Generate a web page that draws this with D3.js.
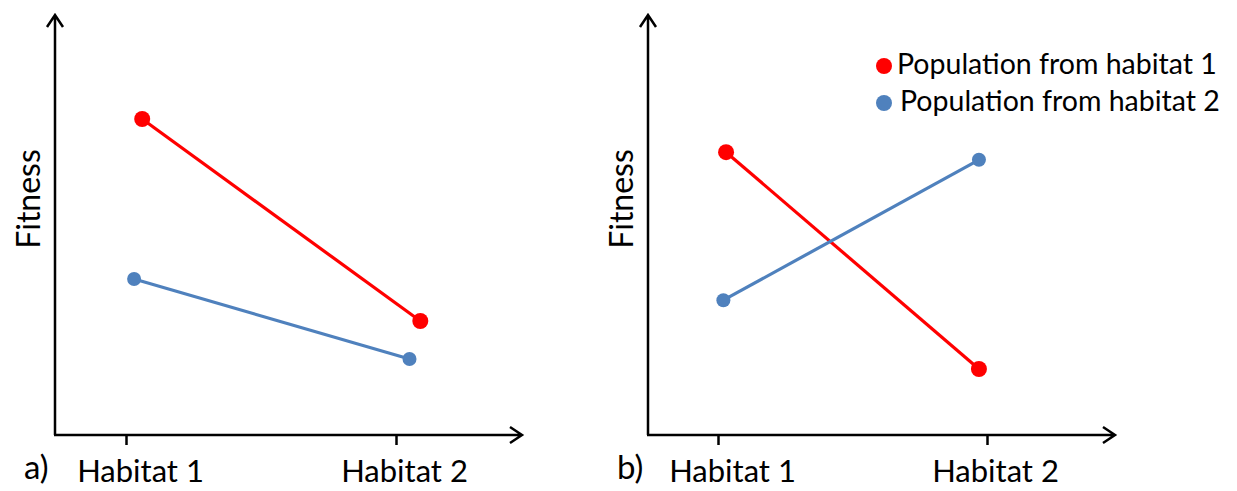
<!DOCTYPE html>
<head>
<meta charset="utf-8">
<title>Local adaptation reaction norms</title>
<script type="text/javascript" src="https://d3js.org/d3.v7.min.js"></script>
<style>
    body { margin: 0; background: #fff; }
    text { font-family: Lato, "Open Sans", sans-serif; fill: #000; }
</style>
</head>
<body>
<div id="my_dataviz"></div>
<script>

// categories on the x axis
var categories = ["Habitat 1", "Habitat 2"];
var seriesNames = ["Population from habitat 1", "Population from habitat 2"];
var seriesColors = ["#ff0000", "#4f81bd"];

// x = 1 for habitat 1, 2 for habitat 2 (points sit a little off the ticks)
// y = relative fitness, 0..10
var aHab1X = [1.06, 2.09], aHab1Y = [7.9, 2.85];
var aHab2X = [1.03, 2.05], aHab2Y = [3.9, 1.9];
var bHab1X = [1.03, 1.97], bHab1Y = [7.07, 1.65];
var bHab2X = [1.02, 1.97], bHab2Y = [3.37, 6.88];

var panels = [
    {label: "a)", left: 55, right: 522, tick1: 126, tick2: 396,
     series: [[aHab1X, aHab1Y], [aHab2X, aHab2Y]]},
    {label: "b)", left: 648, right: 1115, tick1: 718, tick2: 987,
     series: [[bHab1X, bHab1Y], [bHab2X, bHab2Y]]}
];

var width = 1237, height = 491;
var axisY = 435, axisTop = 15;

var svg = d3.select("#my_dataviz")
  .append("svg")
    .attr("width", width)
    .attr("height", height);

var y = d3.scaleLinear()
    .domain([0, 10])
    .range([axisY, 35]);

panels.forEach(function(p) {
    var g = svg.append("g");

    var x = d3.scaleLinear()
        .domain([1, 2])
        .range([p.tick1, p.tick2]);

    // axis lines with open arrow heads
    g.append("path")
        .attr("d", "M" + p.left + "," + axisY + "V" + axisTop +
                   "M" + (p.left - 8) + "," + (axisTop + 12) + "L" + p.left + "," + axisTop + "L" + (p.left + 8) + "," + (axisTop + 12) +
                   "M" + (p.left - 1) + "," + axisY + "H" + p.right +
                   "M" + (p.right - 12) + "," + (axisY - 8) + "L" + p.right + "," + axisY + "L" + (p.right - 12) + "," + (axisY + 8))
        .attr("fill", "none")
        .attr("stroke", "#000")
        .attr("stroke-width", 2.5);

    // ticks + category labels
    var xAxis = g.append("g")
        .attr("transform", "translate(0," + axisY + ")")
        .call(d3.axisBottom(x)
            .tickValues([1, 2])
            .tickFormat(function(d) { return categories[d - 1]; })
            .tickSize(10)
            .tickPadding(20));
    xAxis.select(".domain").remove();
    xAxis.selectAll(".tick line").attr("stroke", "#000").attr("stroke-width", 2.5);
    xAxis.selectAll(".tick text")
        .attr("dx", function(d) { return d == 1 ? 14 : 8; })
        .attr("dy", "0.55em")
        .style("font-family", "Lato, sans-serif")
        .style("font-size", "31px");

    // y label
    g.append("text")
        .attr("transform", "translate(" + (p.left - 15) + ",199) rotate(-90)")
        .attr("text-anchor", "middle")
        .style("font-size", "32px")
        .text("Fitness");

    // panel label
    g.append("text")
        .attr("x", p.left - 31)
        .attr("y", 479)
        .style("font-size", "33px")
        .text(p.label);

    // lines and points
    p.series.forEach(function(s, i) {
        var pts = s[0].map(function(v, j) { return [v, s[1][j]]; });
        g.append("path")
            .datum(pts)
            .attr("fill", "none")
            .attr("stroke", seriesColors[i])
            .attr("stroke-width", 3.2)
            .attr("d", d3.line()
                .x(function(d) { return x(d[0]); })
                .y(function(d) { return y(d[1]); }));
        g.selectAll(".pt" + i)
            .data(pts)
            .enter()
            .append("circle")
            .attr("cx", function(d) { return x(d[0]); })
            .attr("cy", function(d) { return y(d[1]); })
            .attr("r", i == 0 ? 8 : 7)
            .attr("fill", seriesColors[i]);
    });
});

// legend (panel b)
var legend = svg.append("g");
var legY = [66, 103], legTextX = [897, 900];
seriesNames.forEach(function(n, i) {
    legend.append("circle")
        .attr("cx", 884)
        .attr("cy", legY[i])
        .attr("r", 8)
        .attr("fill", seriesColors[i]);
    legend.append("text")
        .attr("x", legTextX[i])
        .attr("y", legY[i] + 8)
        .style("font-size", "28.5px")
        .text(n);
});

</script>
</body>
